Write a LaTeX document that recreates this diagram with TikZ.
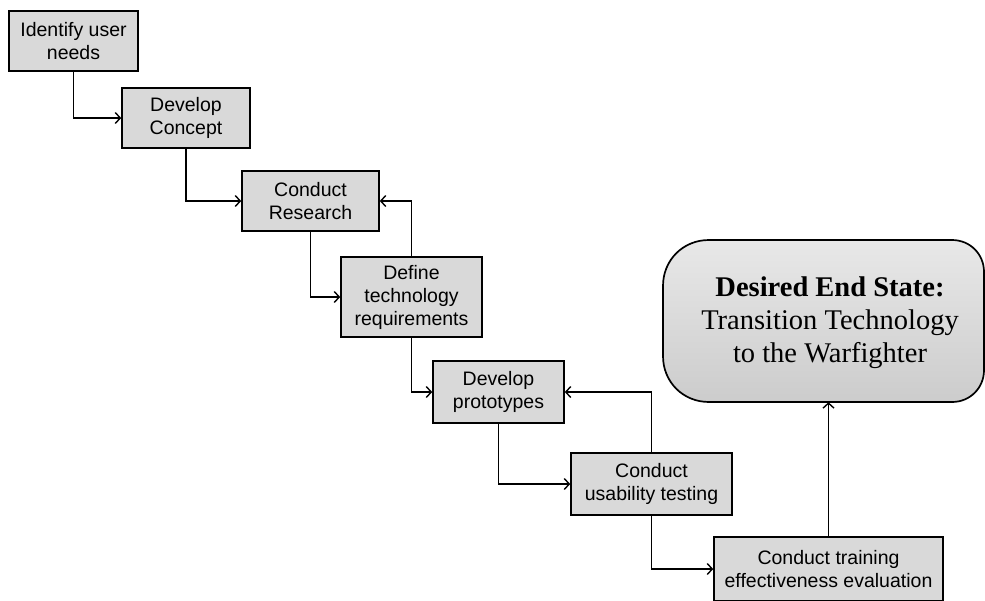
\documentclass[tikz,border=0pt]{standalone}
\usepackage{fontspec}
\setmainfont{Liberation Serif}
\newfontfamily\boxfont{Liberation Sans}
\usetikzlibrary{arrows.meta}
\begin{document}
\begin{tikzpicture}[x=1pt,y=-1pt,
  stepbox/.style={draw=black, line width=1.6pt, fill=gray!30, align=center, inner sep=0pt,
    font=\boxfont\fontsize{19.5}{23}\selectfont},
  conn/.style={line width=1.6pt, -{Straight Barb[length=5pt,width=11pt,line width=1.4pt]}},
  endtext/.style={align=center, inner sep=0pt, font=\fontsize{28.5}{33}\selectfont},
]
\useasboundingbox (0,0) rectangle (985,600);
% boxes
\node[stepbox, minimum width=129pt, minimum height=60pt] (b1) at (73.5,41) {Identify user\\needs};
\node[stepbox, minimum width=128pt, minimum height=60pt] (b2) at (186,118) {Develop\\Concept};
\node[stepbox, minimum width=137pt, minimum height=60pt] (b3) at (310.5,201) {Conduct\\Research};
\node[stepbox, minimum width=141pt, minimum height=80pt] (b4) at (411.5,297) {Define\\technology\\requirements};
\node[stepbox, minimum width=131pt, minimum height=62pt] (b5) at (498.5,392) {Develop\\prototypes};
\node[stepbox, minimum width=161pt, minimum height=62pt] (b6) at (651.5,484) {Conduct\\usability testing};
\node[stepbox, minimum width=229pt, minimum height=64pt] (b7) at (828.5,569) {Conduct training\\effectiveness evaluation};
% end state shape
\shade[top color=gray!18, bottom color=gray!40, draw=black, line width=1.7pt]
  (709,240) -- (952,240) .. controls (970,240) and (984,254) .. (984,272)
  -- (984,370) .. controls (984,388) and (970,402) .. (952,402)
  -- (709,402) .. controls (683,402) and (663,382) .. (663,356)
  -- (663,286) .. controls (663,260) and (683,240) .. (709,240) -- cycle;
\node[minimum width=321pt, minimum height=162pt, inner sep=0pt] (endst) at (823.5,321) {};
\node[endtext] (endtxt) at (830,323) {\textbf{Desired End State:}\\Transition Technology\\to the Warfighter};
% connectors
\draw[conn] (b1.south) |- (b2.west);
\draw[conn] (b2.south) |- (b3.west);
\draw[conn] (b3.south) |- (b4.west);
\draw[conn] (b4.south) |- (b5.west);
\draw[conn] (b5.south) |- (b6.west);
\draw[conn] (b6.south) |- (b7.west);
\draw[conn] (b4.north) |- (b3.east);
\draw[conn] (b6.north) |- (b5.east);
\draw[conn] (b7.north) -- (b7.north |- endst.south);
\end{tikzpicture}
\end{document}
